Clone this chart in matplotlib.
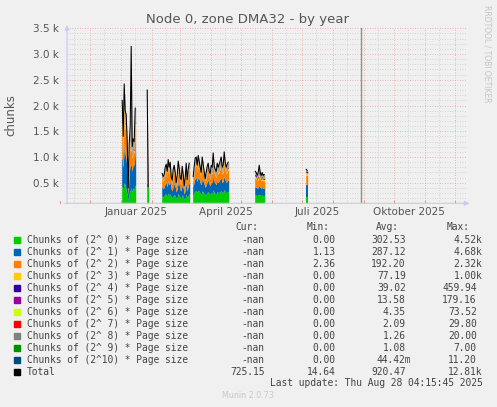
import numpy as np
import matplotlib
matplotlib.use('Agg')
import matplotlib.pyplot as plt
from matplotlib.patches import Rectangle
import datetime as dt

# x = days since 2025-01-01, values in k chunks
seg_start = [1, 26, 41, 72, 134, 185]
seg_len = [14, 2, 28, 36, 10, 2]

green = [0.42, 0.38, 0.50, 0.45, 0.35, 0.28, 0.15, 0.30, 0.35, 0.40, 0.32, 0.40, 0.38, 0.45,
         0.45, 0.40,
         0.24, 0.22, 0.25, 0.28, 0.27, 0.24, 0.30, 0.26, 0.28, 0.22, 0.20, 0.25, 0.27, 0.24,
         0.19, 0.22, 0.29, 0.26, 0.21, 0.20, 0.27, 0.23, 0.17, 0.21, 0.28, 0.20, 0.25, 0.28,
         0.27, 0.31, 0.34, 0.35, 0.31, 0.36, 0.33, 0.30, 0.28, 0.34, 0.32, 0.29, 0.26, 0.28,
         0.31, 0.33, 0.29, 0.27, 0.31, 0.30, 0.36, 0.31, 0.29, 0.28, 0.33, 0.30, 0.32, 0.33,
         0.35, 0.30, 0.32, 0.37, 0.33, 0.30, 0.32, 0.33,
         0.26, 0.26, 0.25, 0.26, 0.27, 0.26, 0.25, 0.26, 0.25, 0.25,
         0.23, 0.23]
blue = [0.55, 0.42, 0.75, 0.60, 0.60, 0.45, 0.12, 0.40, 0.50, 0.45, 0.40, 0.50, 0.45, 0.65,
        0.05, 0.01,
        0.18, 0.16, 0.17, 0.20, 0.22, 0.18, 0.24, 0.20, 0.22, 0.16, 0.14, 0.19, 0.21, 0.18,
        0.13, 0.16, 0.23, 0.20, 0.15, 0.14, 0.21, 0.17, 0.11, 0.15, 0.22, 0.14, 0.19, 0.22,
        0.17, 0.21, 0.25, 0.25, 0.21, 0.26, 0.24, 0.20, 0.18, 0.25, 0.21, 0.18, 0.15, 0.18,
        0.21, 0.22, 0.18, 0.17, 0.21, 0.20, 0.27, 0.21, 0.20, 0.18, 0.22, 0.20, 0.22, 0.24,
        0.25, 0.20, 0.21, 0.27, 0.22, 0.20, 0.22, 0.22,
        0.16, 0.15, 0.14, 0.15, 0.17, 0.15, 0.14, 0.15, 0.14, 0.14,
        0.23, 0.23]
orange = [0.55, 0.30, 0.65, 0.50, 0.50, 0.30, 0.05, 0.30, 0.40, 0.30, 0.25, 0.22, 0.25, 0.45,
          0.02, 0.00,
          0.16, 0.15, 0.15, 0.20, 0.24, 0.18, 0.27, 0.21, 0.25, 0.14, 0.12, 0.19, 0.22, 0.17,
          0.11, 0.15, 0.26, 0.20, 0.14, 0.13, 0.21, 0.16, 0.10, 0.14, 0.24, 0.13, 0.19, 0.24,
          0.10, 0.17, 0.23, 0.24, 0.18, 0.24, 0.21, 0.17, 0.13, 0.23, 0.18, 0.13, 0.09, 0.13,
          0.17, 0.19, 0.14, 0.13, 0.18, 0.17, 0.26, 0.17, 0.15, 0.14, 0.19, 0.17, 0.18, 0.21,
          0.23, 0.17, 0.18, 0.26, 0.20, 0.17, 0.18, 0.20,
          0.17, 0.16, 0.14, 0.16, 0.20, 0.16, 0.14, 0.16, 0.14, 0.15,
          0.19, 0.18]
yellow = [0.15, 0.06, 0.18, 0.10, 0.12, 0.06, 0.01, 0.05, 0.08, 0.06, 0.04, 0.03, 0.04, 0.10,
          0.00, 0.00,
          0.03, 0.02, 0.03, 0.04, 0.04, 0.03, 0.05, 0.03, 0.04, 0.02, 0.02, 0.03, 0.04, 0.03,
          0.02, 0.02, 0.05, 0.03, 0.02, 0.02, 0.04, 0.03, 0.01, 0.02, 0.04, 0.02, 0.03, 0.04,
          0.02, 0.03, 0.05, 0.05, 0.03, 0.05, 0.04, 0.03, 0.02, 0.05, 0.03, 0.02, 0.02, 0.02,
          0.03, 0.04, 0.02, 0.02, 0.03, 0.03, 0.06, 0.03, 0.03, 0.02, 0.04, 0.03, 0.03, 0.04,
          0.05, 0.03, 0.03, 0.06, 0.04, 0.03, 0.03, 0.04,
          0.04, 0.04, 0.03, 0.04, 0.05, 0.04, 0.03, 0.04, 0.03, 0.03,
          0.05, 0.05]
purple = [0.04, 0.02, 0.05, 0.03, 0.04, 0.02, 0.00, 0.02, 0.03, 0.02, 0.02, 0.03, 0.02, 0.03,
          0.00, 0.00,
          0.01, 0.01, 0.01, 0.01, 0.02, 0.01, 0.01, 0.01, 0.01, 0.01, 0.01, 0.01, 0.01, 0.01,
          0.01, 0.01, 0.01, 0.01, 0.01, 0.01, 0.01, 0.01, 0.01, 0.01, 0.01, 0.01, 0.01, 0.01,
          0.01, 0.01, 0.01, 0.01, 0.02, 0.02, 0.01, 0.01, 0.01, 0.01, 0.02, 0.01, 0.01, 0.01,
          0.01, 0.02, 0.01, 0.01, 0.01, 0.02, 0.02, 0.01, 0.01, 0.01, 0.02, 0.01, 0.01, 0.01,
          0.02, 0.01, 0.01, 0.02, 0.01, 0.01, 0.02, 0.02,
          0.03, 0.03, 0.02, 0.03, 0.04, 0.03, 0.02, 0.03, 0.02, 0.02,
          0.03, 0.03]
total = [2.10, 1.40, 2.42, 1.90, 1.82, 1.30, 0.40, 1.25, 1.60, 3.15, 1.20, 1.35, 1.30, 1.95,
         2.30, 0.42,
         0.68, 0.62, 0.66, 0.80, 0.86, 0.72, 0.95, 0.80, 0.90, 0.62, 0.55, 0.76, 0.84, 0.70,
         0.50, 0.64, 0.92, 0.78, 0.60, 0.56, 0.82, 0.66, 0.44, 0.60, 0.88, 0.56, 0.76, 0.88,
         0.62, 0.82, 0.98, 1.00, 0.84, 1.03, 0.92, 0.80, 0.70, 1.00, 0.85, 0.72, 0.58, 0.70,
         0.82, 0.88, 0.72, 0.68, 0.84, 0.80, 1.08, 0.82, 0.76, 0.72, 0.88, 0.80, 0.86, 0.92,
         1.00, 0.80, 0.84, 1.10, 0.90, 0.80, 0.86, 0.90,
         0.72, 0.70, 0.64, 0.70, 0.84, 0.70, 0.64, 0.70, 0.64, 0.66,
         0.76, 0.74]

labels = ['Chunks of (2^ %d) * Page size' % i for i in range(10)] + ['Chunks of (2^10) * Page size', 'Total']
colors = ['#00CC00', '#0066B3', '#FF8000', '#FFCC00', '#330099', '#990099',
          '#CCFF00', '#FF0000', '#808080', '#008F00', '#00487D', '#000000']
cur = ['-nan'] * 11 + ['725.15']
mins = ['0.00', '1.13', '2.36', '0.00', '0.00', '0.00', '0.00', '0.00', '0.00', '0.00', '0.00', '14.64']
avgs = ['302.53', '287.12', '192.20', '77.19', '39.02', '13.58', '4.35', '2.09', '1.26', '1.08', '44.42m', '920.47']
maxs = ['4.52k', '4.68k', '2.32k', '1.00k', '459.94', '179.16', '73.52', '29.80', '20.00', '7.00', '11.20', '12.81k']

W, H = 497, 407
BG = '#F0F0F0'
TXT = '#555555'
x0 = dt.date(2025, 1, 1)


def day(y, m, d):
    return (dt.date(y, m, d) - x0).days


fig = plt.figure(figsize=(W / 100, H / 100), dpi=100, facecolor=BG)
ax = fig.add_axes([67 / W, 1 - 203.3 / H, 400 / W, 175 / H])
ax.set_facecolor(BG)
ax.set_xlim(-54.2, 345.8)
ax.set_ylim(100, 3500)
for s in ax.spines.values():
    s.set_visible(False)

# grid
for v in range(200, 3500, 100):
    if v % 500:
        ax.axhline(v, color='#cccccc', lw=0.6, ls=(0, (1, 2)), zorder=0)
for v in range(500, 3501, 500):
    ax.axhline(v, color='#eaa0a0', lw=0.6, ls=(0, (1, 2)), zorder=0)
months = [(2024, 11), (2024, 12)] + [(2025, m) for m in range(1, 13)]
for y, m in months:
    ax.axvline(day(y, m, 15), color='#cccccc', lw=0.6, ls=(0, (1, 2)), zorder=0)
    ax.axvline(day(y, m, 1), color='#eaa0a0', lw=0.6, ls=(0, (1, 2)), zorder=0)
    ax.plot([day(y, m, 1)] * 2, [0, 0.013], transform=ax.get_xaxis_transform(),
            color='#e08080', lw=0.6, clip_on=False)

# now line
ax.axvline(day(2025, 8, 29), color='#909090', lw=1, zorder=1)

# data, each day fills its own pixel column
days = np.concatenate([np.arange(s, s + n) for s, n in zip(seg_start, seg_len)])
stack = np.array([green, blue, orange, yellow, purple]) * 1000
tot = np.array(total) * 1000
idx = 0
for n in seg_len:
    sl = slice(idx, idx + n)
    x = np.concatenate([[days[sl][0] - 0.5], days[sl], [days[sl][-1] + 0.5]])

    def pad(a):
        return np.concatenate([[a[0]], a, [a[-1]]])

    base = np.zeros(n + 2)
    for vals, c in zip(stack, colors[:5]):
        ax.fill_between(x, base, base + pad(vals[sl]), color=c, lw=0, zorder=2)
        base = base + pad(vals[sl])
    ax.fill_between(x, base, pad(tot[sl]), color='#a89b8a', lw=0, zorder=2)
    ax.plot(x[1:-1], tot[sl], color='black', lw=0.75, zorder=3)
    idx += n

# axes with arrows
ax.annotate('', xy=(1.013, 0), xytext=(-0.012, 0), xycoords='axes fraction',
            arrowprops=dict(arrowstyle='-|>', color='#c8c8f8', lw=0.8, mutation_scale=7),
            annotation_clip=False)
ax.annotate('', xy=(0, 1.035), xytext=(0, -0.015), xycoords='axes fraction',
            arrowprops=dict(arrowstyle='-|>', color='#c8c8f8', lw=0.8, mutation_scale=7),
            annotation_clip=False)

ax.set_xticks([])
ax.set_yticks(range(500, 3501, 500))
ax.set_yticklabels(['%.1f k' % (v / 1000) for v in range(500, 3501, 500)])
ax.tick_params(axis='y', length=0, pad=6, labelsize=7.5, labelcolor=TXT)
for y, m, name in [(2025, 1, 'Januar 2025'), (2025, 4, 'April 2025'),
                   (2025, 7, 'Juli 2025'), (2025, 10, 'Oktober 2025')]:
    ax.text(day(y, m, 16), -8.7 / 175, name, transform=ax.get_xaxis_transform(),
            ha='center', va='center', fontsize=7.5, color=TXT)

fig.text(248 / W, 1 - 19.3 / H, 'Node 0, zone DMA32 - by year', ha='center', va='center',
         fontsize=9.5, color=TXT)
fig.text(10.5 / W, 1 - 115 / H, 'chunks', rotation=90, ha='center', va='center',
         fontsize=8.5, color=TXT)
fig.text(487.5 / W, 1 - 53.5 / H, 'RRDTOOL / TOBI OETIKER', rotation=270, ha='center',
         va='center', fontsize=5.5, color='#c4c4c4')

# legend
mono = dict(family='DejaVu Sans Mono', fontsize=6.9, color='#444444', va='center')
cw = 5.75
cols = [264.3, 335.7, 405.7, 476.7]
for name, xe in zip(['Cur:', 'Min:', 'Avg:', 'Max:'], [258.3, 329.3, 399.3, 470]):
    fig.text(xe / W, 1 - 227.3 / H, name, ha='right', **mono)
for i, lab in enumerate(labels):
    yc = 239.7 + 12 * i
    fig.add_artist(Rectangle((14 / W, 1 - (yc + 3) / H), 6 / W, 6 / H, color=colors[i],
                             transform=fig.transFigure))
    fig.text(26.7 / W, 1 - yc / H, lab, ha='left', **mono)
    for vals, xe in zip([cur, mins, avgs, maxs], cols):
        v = vals[i]
        if v[-1] in 'km':
            xe += cw
        fig.text(xe / W, 1 - yc / H, v, ha='right', **mono)
fig.text(482.7 / W, 1 - 383.3 / H, 'Last update: Thu Aug 28 04:15:45 2025', ha='right', **mono)
fig.text(247.7 / W, 1 - 396 / H, 'Munin 2.0.73', ha='center', va='center', fontsize=5.8,
         color='#c8c8c8')

fig.savefig('out.png', dpi=100, facecolor=BG)
